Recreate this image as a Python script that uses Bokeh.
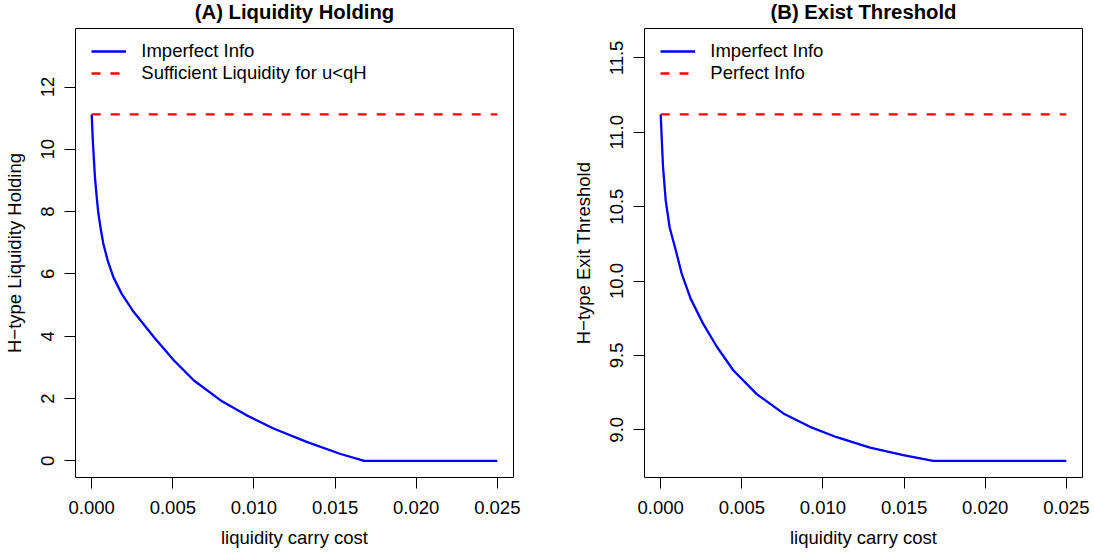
from bokeh.plotting import figure
from bokeh.layouts import row
from bokeh.models import Range1d, FixedTicker, NumeralTickFormatter, Legend, LegendItem
from bokeh.embed import file_html
from bokeh.resources import INLINE

# liquidity carry cost grid for the imperfect-information curves
cost_a = [0, 0.00004, 0.00008, 0.00014, 0.0002, 0.00029, 0.00039, 0.00054,
          0.00072, 0.00099, 0.00134, 0.00185, 0.00253, 0.00384, 0.00507,
          0.0063, 0.00795, 0.0096, 0.01124, 0.01329, 0.01534, 0.0168, 0.025]
holding_imperfect = [11.12, 10.60, 10.17, 9.63, 9.10, 8.57, 8.03, 7.49,
                     6.96, 6.42, 5.89, 5.36, 4.82, 3.97, 3.22,
                     2.58, 1.94, 1.45, 1.03, 0.60, 0.22, 0.0, 0.0]

cost_b = [0, 0.00005, 0.00014, 0.00031, 0.00055, 0.00092, 0.00129, 0.00185,
          0.00263, 0.00345, 0.00447, 0.00592, 0.00756, 0.0092, 0.01085,
          0.0129, 0.01495, 0.0168, 0.025]
threshold_imperfect = [11.12, 10.99, 10.77, 10.54, 10.36, 10.21, 10.05, 9.88,
                       9.71, 9.56, 9.40, 9.24, 9.11, 9.02, 8.95,
                       8.88, 8.83, 8.791, 8.791]

# benchmark levels
cost_span = [0, 0.025]
holding_sufficient = [11.12, 11.12]
threshold_perfect = [11.12, 11.12]

x_ticks = [0, 0.005, 0.01, 0.015, 0.02, 0.025]
y_ticks_a = [0, 2, 4, 6, 8, 10, 12]
y_ticks_b = [9.0, 9.5, 10.0, 10.5, 11.0, 11.5]

FONT = "Liberation Sans"
TXT = "18.5px"
FRAME_W = 438
FRAME_H = 449


def panel(title, ylabel, x, y, ref_y, labels, yticks, yfmt, left, right):
    xlo, xhi = min(x), max(x)
    xpad = 0.04 * (xhi - xlo)
    ylo = min(y)
    yhi = max(ref_y) + 0.2 * (max(ref_y) - ylo)
    ypad = 0.04 * (yhi - ylo)
    p = figure(frame_width=FRAME_W, frame_height=FRAME_H,
               x_range=Range1d(xlo - xpad, xhi + xpad),
               y_range=Range1d(ylo - ypad, yhi + ypad),
               output_backend="svg", toolbar_location=None,
               min_border_left=left, min_border_right=right,
               min_border_top=28, min_border_bottom=77)
    p.background_fill_color = "white"
    p.border_fill_color = "white"
    p.outline_line_color = "black"
    p.outline_line_width = 1
    p.grid.visible = False

    p.title.text = title
    p.title.align = "center"
    p.title.text_font = FONT
    p.title.text_font_size = "20.3px"
    p.title.text_font_style = "bold"
    p.title.text_color = "black"
    p.title.standoff = 11

    for ax in (p.xaxis[0], p.yaxis[0]):
        ax.major_tick_out = 11
        ax.major_tick_in = 0
        ax.minor_tick_out = 0
        ax.minor_tick_in = 0
        ax.major_tick_line_color = "black"
        ax.axis_line_color = "black"
        ax.major_label_text_font = FONT
        ax.major_label_text_font_size = TXT
        ax.major_label_text_color = "black"
        ax.axis_label_text_font = FONT
        ax.axis_label_text_font_size = TXT
        ax.axis_label_text_font_style = "normal"
        ax.axis_label_text_color = "black"

    p.xaxis[0].ticker = FixedTicker(ticks=x_ticks)
    p.xaxis[0].formatter = NumeralTickFormatter(format="0.000")
    p.xaxis[0].bounds = (x_ticks[0], x_ticks[-1])
    p.xaxis[0].axis_label = "liquidity carry cost"
    p.xaxis[0].major_label_standoff = 12
    p.xaxis[0].axis_label_standoff = 10

    p.yaxis[0].ticker = FixedTicker(ticks=yticks)
    p.yaxis[0].formatter = NumeralTickFormatter(format=yfmt)
    p.yaxis[0].bounds = (yticks[0], yticks[-1])
    p.yaxis[0].axis_label = ylabel
    p.yaxis[0].major_label_orientation = "vertical"
    p.yaxis[0].major_label_standoff = 10
    p.yaxis[0].axis_label_standoff = 14

    blue = p.line(x, y, line_color="blue", line_width=2.3,
                  line_join="round")
    red = p.line(cost_span, ref_y, line_color="red", line_width=2.3,
                 line_dash="9 10")

    legend = Legend(items=[LegendItem(label=labels[0], renderers=[blue]),
                           LegendItem(label=labels[1], renderers=[red])],
                    location=(16.3, FRAME_H - 11.6 - 44.8),
                    padding=0, margin=0, spacing=0,
                    glyph_width=35, glyph_height=22, label_height=22,
                    label_standoff=15,
                    border_line_alpha=0, background_fill_alpha=0,
                    label_text_font=FONT, label_text_font_size=TXT,
                    label_text_color="black")
    p.add_layout(legend)
    return p


pa = panel("(A) Liquidity Holding", "H\u2212type Liquidity Holding",
           cost_a, holding_imperfect, holding_sufficient,
           ["Imperfect Info", "Sufficient Liquidity for u<qH"],
           y_ticks_a, "0", 75, 34)
pb = panel("(B) Exist Threshold", "H\u2212type Exit Threshold",
           cost_b, threshold_imperfect, threshold_perfect,
           ["Imperfect Info", "Perfect Info"],
           y_ticks_b, "0.0", 97, 11)

# the titles need a little more headroom than the frame offset allows,
# so the whole row is lifted to keep the frames at the same height
layout = row(pa, pb, styles={"margin-top": "-7px"})
open("out.html", "w").write(file_html(layout, INLINE))
